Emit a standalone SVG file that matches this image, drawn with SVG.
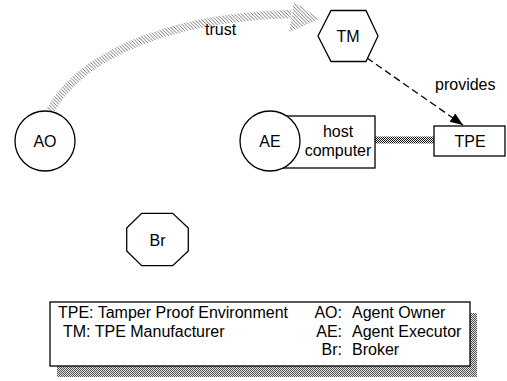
<svg xmlns="http://www.w3.org/2000/svg" width="507" height="381" viewBox="0 0 507 381">
<style>
.s{fill:#fff;stroke:#000;stroke-width:1.3}
.t{font-family:"Liberation Sans",Arial,sans-serif;font-size:16px;fill:#000}
.m{text-anchor:middle}
.e{text-anchor:end}
</style>
<defs>
<pattern id="hatch" patternUnits="userSpaceOnUse" width="3.5" height="3.5">
<path d="M-1,-1 L4.5,4.5 M-1,2.5 L1,4.5 M2.5,-1 L4.5,1" stroke="#555" stroke-width="0.8"/>
</pattern>
<pattern id="check" patternUnits="userSpaceOnUse" width="2" height="2">
<rect width="2" height="2" fill="#fff"/>
<rect width="1" height="1" fill="#111"/>
<rect x="1" y="1" width="1" height="1" fill="#111"/>
</pattern>
<pattern id="shade" patternUnits="userSpaceOnUse" width="2" height="2">
<rect width="2" height="2" fill="#ddd"/>
<rect width="1" height="1" fill="#555"/>
<rect x="1" y="1" width="1" height="1" fill="#555"/>
</pattern>
<marker id="ah" markerUnits="userSpaceOnUse" markerWidth="14" markerHeight="12" refX="13" refY="5" orient="auto">
<path d="M0,0 L13,5 L0,10 Z" fill="#000"/>
</marker>
</defs>
<g id="connectors">
<path id="trust" d="M50,111 C75,65 150,18 291,14" fill="none" stroke="url(#hatch)" stroke-width="8.5"/>
<polygon points="294,2 320,19 289,32" fill="url(#hatch)"/>
<rect id="link" x="375" y="136.5" width="59" height="7" fill="url(#check)"/>
<line id="provides" x1="367" y1="58" x2="463" y2="125" stroke="#000" stroke-width="1.3" stroke-dasharray="7 4" marker-end="url(#ah)"/>
<text class="t" x="205" y="35">trust</text>
<text class="t" x="435" y="90">provides</text>
</g>
<g id="AO">
<circle class="s" cx="45" cy="141" r="30"/>
<text class="t m" x="45" y="147">AO</text>
</g>
<g id="host">
<rect class="s" x="270" y="116" width="105" height="52"/>
<text class="t m" x="338" y="137">host</text>
<text class="t m" x="338" y="155.5">computer</text>
</g>
<g id="AE">
<circle class="s" cx="270" cy="141" r="30"/>
<text class="t m" x="270" y="147">AE</text>
</g>
<g id="TM">
<polygon class="s" points="318,36 331,10.5 366,10.5 378,36 366,61.5 331,61.5"/>
<text class="t m" x="348" y="41.5">TM</text>
</g>
<g id="TPE">
<rect class="s" x="434" y="126" width="71" height="30"/>
<text class="t m" x="470" y="146.5">TPE</text>
</g>
<g id="Br">
<polygon class="s" points="141.7,213.3 172.7,213.3 188.3,228 188.3,251 172.7,265.7 141.7,265.7 126.7,251 126.7,228"/>
<text class="t m" x="157.5" y="245.5">Br</text>
</g>
<g id="legend">
<rect x="57" y="313" width="420" height="64" fill="url(#shade)"/>
<rect class="s" x="50" y="302" width="420" height="64"/>
<text class="t" x="58" y="318">TPE: Tamper Proof Environment</text>
<text class="t" x="63" y="336.5">TM: TPE Manufacturer</text>
<text class="t e" x="342" y="318">AO:</text>
<text class="t e" x="342" y="336.5">AE:</text>
<text class="t e" x="342" y="355">Br:</text>
<text class="t" x="352" y="318">Agent Owner</text>
<text class="t" x="352" y="336.5">Agent Executor</text>
<text class="t" x="352" y="355">Broker</text>
</g>
</svg>
